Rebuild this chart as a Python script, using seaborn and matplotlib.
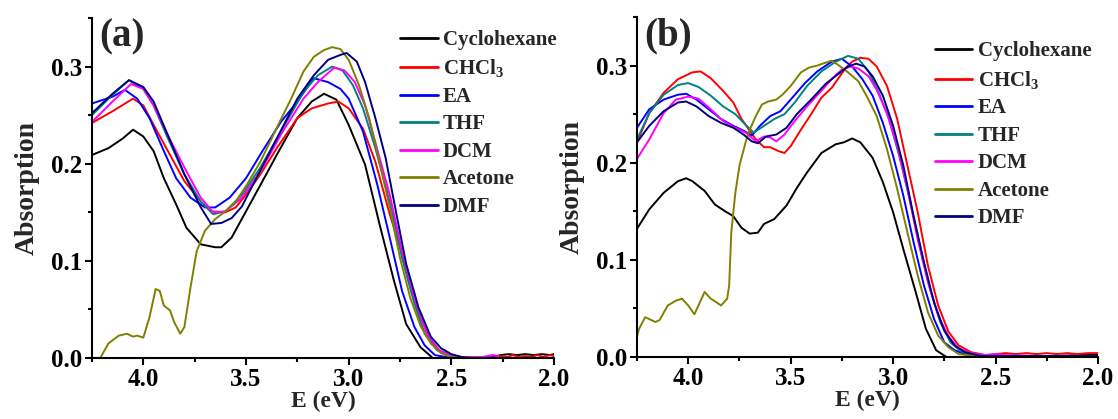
import numpy as np
import pandas as pd
import matplotlib
matplotlib.use("Agg")
import matplotlib.pyplot as plt
from matplotlib.ticker import MultipleLocator
import seaborn as sns

solvents = ["Cyclohexane", "CHCl3", "EA", "THF", "DCM", "Acetone", "DMF"]
labels = ["Cyclohexane", r"CHCl$_3$", "EA", "THF", "DCM", "Acetone", "DMF"]
colors = ["#000000", "#FF0000", "#0000FF", "#008080", "#FF00FF", "#808000", "#000080"]

# ---------------- panel (a) ----------------
a_cyc_E = [4.25, 4.17, 4.10, 4.05, 4.00, 3.95, 3.90, 3.84, 3.79, 3.72, 3.65, 3.62, 3.57, 3.50, 3.43, 3.34, 3.25, 3.18, 3.12, 3.06, 3.00, 2.92, 2.85, 2.78, 2.72, 2.65, 2.59, 2.50, 2.40, 2.30, 2.26, 2.22, 2.18, 2.14, 2.10, 2.06, 2.02, 2.00]
a_cyc_A = [0.209, 0.216, 0.226, 0.235, 0.228, 0.213, 0.185, 0.158, 0.134, 0.117, 0.114, 0.114, 0.124, 0.151, 0.178, 0.213, 0.247, 0.264, 0.272, 0.266, 0.240, 0.199, 0.138, 0.080, 0.035, 0.011, 0.000, 0.000, 0.000, 0.001, 0.003, 0.004, 0.003, 0.004, 0.003, 0.004, 0.003, 0.004]

a_chc_E = [4.25, 4.15, 4.05, 4.00, 3.95, 3.87, 3.80, 3.72, 3.67, 3.60, 3.55, 3.50, 3.43, 3.35, 3.25, 3.18, 3.10, 3.05, 3.00, 2.93, 2.87, 2.80, 2.75, 2.70, 2.65, 2.60, 2.55, 2.50, 2.40, 2.30, 2.26, 2.23, 2.20, 2.17, 2.14, 2.11, 2.08, 2.05, 2.02, 2.00]
a_chc_A = [0.242, 0.254, 0.267, 0.260, 0.240, 0.209, 0.182, 0.161, 0.151, 0.150, 0.155, 0.168, 0.189, 0.216, 0.247, 0.257, 0.262, 0.264, 0.257, 0.236, 0.202, 0.148, 0.114, 0.073, 0.042, 0.018, 0.006, 0.001, 0.000, 0.000, 0.002, 0.001, 0.003, 0.001, 0.002, 0.001, 0.003, 0.001, 0.003, 0.002]

a_ea_E = [4.25, 4.15, 4.09, 4.03, 3.97, 3.90, 3.84, 3.77, 3.70, 3.65, 3.58, 3.50, 3.42, 3.33, 3.25, 3.17, 3.10, 3.04, 3.00, 2.93, 2.86, 2.80, 2.74, 2.68, 2.63, 2.58, 2.50, 2.40, 2.30]
a_ea_A = [0.262, 0.269, 0.276, 0.267, 0.247, 0.213, 0.185, 0.165, 0.155, 0.155, 0.165, 0.185, 0.213, 0.243, 0.264, 0.288, 0.284, 0.277, 0.267, 0.233, 0.178, 0.124, 0.069, 0.032, 0.013, 0.003, 0.000, 0.000, 0.001]

a_thf_E = [4.25, 4.15, 4.07, 4.00, 3.95, 3.88, 3.80, 3.72, 3.66, 3.60, 3.52, 3.43, 3.33, 3.22, 3.15, 3.08, 3.03, 2.98, 2.93, 2.87, 2.80, 2.74, 2.68, 2.63, 2.57, 2.50, 2.40, 2.30]
a_thf_A = [0.250, 0.271, 0.286, 0.277, 0.260, 0.226, 0.189, 0.161, 0.148, 0.151, 0.168, 0.196, 0.233, 0.274, 0.291, 0.300, 0.296, 0.281, 0.257, 0.216, 0.161, 0.103, 0.056, 0.025, 0.008, 0.001, 0.000, 0.001]

a_dcm_E = [4.25, 4.15, 4.06, 4.00, 3.95, 3.88, 3.80, 3.72, 3.66, 3.60, 3.52, 3.43, 3.33, 3.22, 3.15, 3.07, 3.02, 2.97, 2.92, 2.87, 2.80, 2.74, 2.68, 2.62, 2.56, 2.50, 2.45, 2.35, 2.30, 2.27]
a_dcm_A = [0.243, 0.264, 0.282, 0.277, 0.260, 0.229, 0.196, 0.165, 0.150, 0.151, 0.165, 0.192, 0.230, 0.267, 0.284, 0.299, 0.296, 0.284, 0.260, 0.222, 0.168, 0.110, 0.062, 0.025, 0.008, 0.003, 0.001, 0.001, 0.003, 0.002]

a_ace_E = [4.25, 4.21, 4.17, 4.12, 4.08, 4.05, 4.03, 4.00, 3.97, 3.94, 3.92, 3.90, 3.87, 3.85, 3.82, 3.80, 3.77, 3.74, 3.70, 3.65, 3.60, 3.55, 3.50, 3.43, 3.35, 3.28, 3.22, 3.17, 3.12, 3.08, 3.04, 3.00, 2.95, 2.90, 2.85, 2.80, 2.75, 2.70, 2.65, 2.60, 2.55, 2.50, 2.40]
a_ace_A = [-0.012, 0.000, 0.015, 0.023, 0.025, 0.022, 0.023, 0.021, 0.042, 0.071, 0.069, 0.054, 0.049, 0.037, 0.025, 0.032, 0.073, 0.110, 0.131, 0.143, 0.151, 0.161, 0.177, 0.202, 0.237, 0.267, 0.295, 0.310, 0.317, 0.320, 0.318, 0.307, 0.281, 0.247, 0.202, 0.155, 0.103, 0.062, 0.033, 0.015, 0.005, 0.001, 0.000]

a_dmf_E = [4.25, 4.15, 4.07, 4.00, 3.95, 3.88, 3.80, 3.72, 3.67, 3.62, 3.57, 3.52, 3.45, 3.35, 3.25, 3.17, 3.10, 3.04, 3.01, 2.96, 2.92, 2.87, 2.82, 2.77, 2.72, 2.66, 2.60, 2.55, 2.50, 2.45, 2.40]
a_dmf_A = [0.252, 0.272, 0.286, 0.279, 0.264, 0.229, 0.189, 0.155, 0.138, 0.139, 0.144, 0.156, 0.185, 0.226, 0.267, 0.291, 0.307, 0.312, 0.314, 0.305, 0.284, 0.247, 0.206, 0.151, 0.097, 0.052, 0.022, 0.010, 0.004, 0.001, 0.000]

# ---------------- panel (b) ----------------
b_cyc_E = [4.25, 4.19, 4.12, 4.05, 4.01, 3.98, 3.92, 3.87, 3.82, 3.78, 3.74, 3.70, 3.66, 3.63, 3.58, 3.52, 3.47, 3.42, 3.35, 3.28, 3.24, 3.20, 3.16, 3.10, 3.05, 3.00, 2.95, 2.89, 2.84, 2.79, 2.74, 2.60, 2.40, 2.20, 2.10, 2.05, 2.00]
b_cyc_A = [0.132, 0.152, 0.169, 0.181, 0.184, 0.181, 0.171, 0.157, 0.150, 0.145, 0.133, 0.127, 0.128, 0.137, 0.142, 0.156, 0.174, 0.190, 0.210, 0.219, 0.221, 0.225, 0.221, 0.205, 0.180, 0.149, 0.111, 0.067, 0.029, 0.007, 0.000, 0.000, 0.001, 0.001, 0.002, 0.003, 0.003]

b_chc_E = [4.25, 4.19, 4.12, 4.05, 3.98, 3.94, 3.89, 3.83, 3.78, 3.74, 3.70, 3.67, 3.63, 3.60, 3.56, 3.53, 3.50, 3.45, 3.40, 3.35, 3.30, 3.27, 3.23, 3.20, 3.16, 3.12, 3.08, 3.03, 2.98, 2.93, 2.88, 2.83, 2.78, 2.73, 2.68, 2.62, 2.55, 2.50, 2.45, 2.40, 2.35, 2.30, 2.25, 2.20, 2.15, 2.10, 2.05, 2.00]
b_chc_A = [0.221, 0.251, 0.272, 0.286, 0.293, 0.294, 0.287, 0.274, 0.262, 0.245, 0.233, 0.224, 0.216, 0.216, 0.212, 0.210, 0.217, 0.234, 0.250, 0.267, 0.277, 0.286, 0.298, 0.304, 0.308, 0.307, 0.299, 0.279, 0.245, 0.197, 0.149, 0.094, 0.053, 0.026, 0.012, 0.005, 0.002, 0.003, 0.004, 0.003, 0.004, 0.003, 0.004, 0.003, 0.004, 0.003, 0.004, 0.004]

b_ea_E = [4.25, 4.19, 4.12, 4.05, 4.01, 3.96, 3.90, 3.84, 3.78, 3.73, 3.69, 3.65, 3.60, 3.55, 3.50, 3.43, 3.37, 3.30, 3.25, 3.20, 3.15, 3.10, 3.05, 3.00, 2.95, 2.90, 2.85, 2.80, 2.75, 2.70, 2.65, 2.55, 2.40, 2.20, 2.00]
b_ea_A = [0.236, 0.255, 0.265, 0.270, 0.271, 0.265, 0.255, 0.245, 0.238, 0.233, 0.228, 0.238, 0.248, 0.253, 0.265, 0.282, 0.294, 0.304, 0.307, 0.299, 0.286, 0.269, 0.241, 0.207, 0.166, 0.118, 0.074, 0.039, 0.015, 0.007, 0.003, 0.001, 0.001, 0.001, 0.001]

b_thf_E = [4.25, 4.19, 4.12, 4.05, 4.00, 3.95, 3.89, 3.83, 3.77, 3.72, 3.68, 3.63, 3.58, 3.53, 3.48, 3.42, 3.35, 3.28, 3.22, 3.17, 3.12, 3.07, 3.02, 2.97, 2.92, 2.87, 2.82, 2.77, 2.72, 2.67, 2.60, 2.50, 2.30, 2.00]
b_thf_A = [0.224, 0.251, 0.270, 0.280, 0.282, 0.278, 0.269, 0.258, 0.250, 0.239, 0.231, 0.238, 0.245, 0.250, 0.262, 0.279, 0.294, 0.304, 0.310, 0.307, 0.294, 0.272, 0.245, 0.207, 0.163, 0.115, 0.070, 0.036, 0.015, 0.006, 0.002, 0.001, 0.001, 0.001]

b_dcm_E = [4.25, 4.19, 4.12, 4.06, 4.00, 3.95, 3.89, 3.83, 3.77, 3.72, 3.67, 3.63, 3.60, 3.57, 3.53, 3.48, 3.42, 3.35, 3.30, 3.25, 3.21, 3.17, 3.12, 3.08, 3.03, 2.98, 2.93, 2.88, 2.83, 2.78, 2.73, 2.68, 2.62, 2.55, 2.50, 2.45, 2.30, 2.00]
b_dcm_A = [0.204, 0.224, 0.251, 0.265, 0.268, 0.266, 0.255, 0.243, 0.236, 0.231, 0.222, 0.227, 0.226, 0.222, 0.229, 0.243, 0.258, 0.274, 0.286, 0.296, 0.299, 0.297, 0.289, 0.275, 0.251, 0.217, 0.173, 0.121, 0.077, 0.043, 0.021, 0.009, 0.004, 0.002, 0.003, 0.002, 0.001, 0.001]

b_ace_E = [4.25, 4.24, 4.21, 4.18, 4.16, 4.14, 4.10, 4.06, 4.03, 4.00, 3.97, 3.95, 3.92, 3.89, 3.86, 3.84, 3.81, 3.80, 3.79, 3.77, 3.75, 3.72, 3.70, 3.67, 3.64, 3.61, 3.57, 3.54, 3.50, 3.45, 3.41, 3.37, 3.33, 3.30, 3.27, 3.22, 3.17, 3.13, 3.08, 3.03, 2.98, 2.93, 2.88, 2.83, 2.78, 2.73, 2.68, 2.60, 2.40, 2.00]
b_ace_A = [0.021, 0.029, 0.041, 0.038, 0.036, 0.038, 0.053, 0.058, 0.060, 0.053, 0.044, 0.053, 0.067, 0.060, 0.056, 0.053, 0.060, 0.074, 0.128, 0.169, 0.197, 0.221, 0.234, 0.248, 0.260, 0.263, 0.265, 0.270, 0.279, 0.293, 0.298, 0.300, 0.303, 0.305, 0.301, 0.293, 0.284, 0.269, 0.248, 0.214, 0.173, 0.128, 0.084, 0.046, 0.022, 0.010, 0.003, 0.001, 0.001, 0.001]

b_dmf_E = [4.25, 4.19, 4.12, 4.05, 4.01, 3.96, 3.90, 3.84, 3.78, 3.73, 3.69, 3.66, 3.62, 3.57, 3.52, 3.47, 3.40, 3.33, 3.27, 3.22, 3.18, 3.14, 3.10, 3.05, 3.00, 2.95, 2.90, 2.85, 2.80, 2.75, 2.70, 2.65, 2.57, 2.40, 2.00]
b_dmf_A = [0.221, 0.238, 0.253, 0.262, 0.263, 0.258, 0.248, 0.241, 0.236, 0.229, 0.222, 0.220, 0.227, 0.229, 0.236, 0.250, 0.265, 0.281, 0.291, 0.299, 0.302, 0.299, 0.289, 0.269, 0.238, 0.197, 0.145, 0.098, 0.056, 0.027, 0.012, 0.005, 0.001, 0.001, 0.001]

panel_a = [(a_cyc_E, a_cyc_A), (a_chc_E, a_chc_A), (a_ea_E, a_ea_A), (a_thf_E, a_thf_A),
           (a_dcm_E, a_dcm_A), (a_ace_E, a_ace_A), (a_dmf_E, a_dmf_A)]
panel_b = [(b_cyc_E, b_cyc_A), (b_chc_E, b_chc_A), (b_ea_E, b_ea_A), (b_thf_E, b_thf_A),
           (b_dcm_E, b_dcm_A), (b_ace_E, b_ace_A), (b_dmf_E, b_dmf_A)]

x_ticks = [4.0, 3.5, 3.0, 2.5, 2.0]
y_ticks = [0.0, 0.1, 0.2, 0.3]


def to_frame(panel):
    rows = []
    for lab, (E, A) in zip(labels, panel):
        for e, a in zip(E, A):
            rows.append((lab, e, a))
    return pd.DataFrame(rows, columns=["solvent", "E", "A"])


sns.set_theme(style="ticks")
plt.rcParams["font.family"] = ["Liberation Serif", "DejaVu Serif"]
plt.rcParams["font.weight"] = "bold"
plt.rcParams["mathtext.fontset"] = "custom"
plt.rcParams["mathtext.rm"] = "Liberation Serif:bold"
plt.rcParams["mathtext.it"] = "Liberation Serif:bold"
plt.rcParams["mathtext.bf"] = "Liberation Serif:bold"
plt.rcParams["mathtext.default"] = "regular"

fig = plt.figure(figsize=(11.18, 4.19), dpi=100)
ax_a = fig.add_axes([92 / 1118, 61 / 419, 462 / 1118, 340 / 419])
ax_b = fig.add_axes([637 / 1118, 62 / 419, 461 / 1118, 340 / 419])

palette = dict(zip(labels, colors))

for ax, panel, tag, leg_xy in [(ax_a, panel_a, "(a)", (0.667, 0.965)),
                               (ax_b, panel_b, "(b)", (0.646, 0.928))]:
    df = to_frame(panel)
    sns.lineplot(data=df, x="E", y="A", hue="solvent", hue_order=labels,
                 palette=palette, linewidth=1.4, estimator=None, sort=False, ax=ax)
    ax.set_xlim(4.25, 2.0)
    ax.set_ylim(0.0, 0.35)
    ax.set_xticks(x_ticks)
    ax.set_yticks(y_ticks)
    ax.set_xticklabels([f"{t:.1f}" for t in x_ticks])
    ax.set_yticklabels([f"{t:.1f}" for t in y_ticks])
    ax.xaxis.set_minor_locator(MultipleLocator(0.25))
    ax.yaxis.set_minor_locator(MultipleLocator(0.05))
    ax.tick_params(axis="both", which="major", direction="out", length=5, width=1.5,
                   labelsize=18, pad=2, color="black", labelcolor="black")
    ax.tick_params(axis="both", which="minor", direction="out", length=3, width=1.5,
                   color="black")
    for s in ["top", "right"]:
        ax.spines[s].set_visible(False)
    for s in ["left", "bottom"]:
        ax.spines[s].set_linewidth(1.5)
        ax.spines[s].set_color("black")
    ax.set_xlabel("E (eV)", fontsize=17, fontweight="bold", labelpad=0)
    ax.set_ylabel("Absorption", fontsize=20, fontweight="bold", labelpad=8)
    ax.text(0.015, 1.0, tag, transform=ax.transAxes, fontsize=28, fontweight="bold",
            va="top", ha="left")
    leg = ax.legend(loc="upper left", bbox_to_anchor=leg_xy, frameon=False,
                    fontsize=15, handlelength=1.8, handletextpad=0.25,
                    labelspacing=0.36, borderpad=0, borderaxespad=0)
    for t in leg.get_texts():
        t.set_fontweight("bold")
    for h in leg.get_lines():
        h.set_linewidth(2.0)

fig.savefig("out.png", dpi=100)
